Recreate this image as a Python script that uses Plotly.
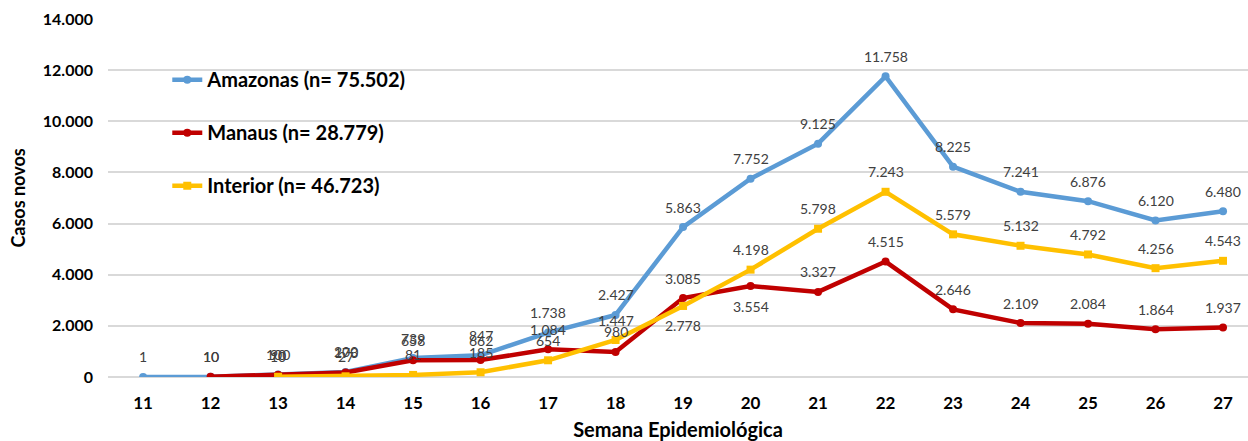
import plotly.graph_objects as go

# Semanas epidemiológicas e casos novos por semana
semanas = ["11", "12", "13", "14", "15", "16", "17", "18", "19", "20",
           "21", "22", "23", "24", "25", "26", "27"]
amazonas = [1, 10, 100, 200, 739, 847, 1738, 2427, 5863, 7752,
            9125, 11758, 8225, 7241, 6876, 6120, 6480]
manaus = [None, 10, 90, 173, 658, 662, 1084, 980, 3085, 3554,
          3327, 4515, 2646, 2109, 2084, 1864, 1937]
interior = [None, None, 10, 27, 81, 185, 654, 1447, 2778, 4198,
            5798, 7243, 5579, 5132, 4792, 4256, 4543]

nomes = ["Amazonas (n= 75.502)", "Manaus (n= 28.779)", "Interior (n= 46.723)"]
cores = ["#5b9bd5", "#c00000", "#ffc000"]
simbolos = ["circle", "circle", "square"]
series = [amazonas, manaus, interior]

# rótulos abaixo do ponto (semana 19 no Interior, semana 20 em Manaus)
abaixo = {(2, "19"), (1, "20")}

fig = go.Figure()
for i, (nome, cor, simb, vals) in enumerate(zip(nomes, cores, simbolos, series)):
    fig.add_trace(go.Scatter(
        x=semanas, y=vals, name=nome, mode="lines+markers",
        line=dict(color=cor, width=4.5),
        marker=dict(color=cor, size=8, symbol=simb),
        legendgroup=f"g{i}", connectgaps=False,
    ))

def fmt(v):
    return f"{v:,}".replace(",", ".")

anotacoes = []
for i, vals in enumerate(series):
    for j, (s, v) in enumerate(zip(semanas, vals)):
        if v is None:
            continue
        desloc = -20 if (i, s) in abaixo else 20
        anotacoes.append(dict(
            x=j, y=v, xref="x", yref="y", text=fmt(v), showarrow=False,
            yshift=desloc, font=dict(family="Lato", size=14, color="#404040"),
        ))

fig.update_layout(
    width=1248, height=441,
    margin=dict(l=108, r=0, t=19, b=64),
    paper_bgcolor="white", plot_bgcolor="white",
    separators=",.",
    annotations=anotacoes,
    showlegend=True,
    legend=dict(
        x=0.052, y=0.885, xanchor="left", yanchor="top",
        bgcolor="rgba(0,0,0,0)", traceorder="grouped", tracegroupgap=24,
        font=dict(family="Lato", size=20, color="#000000", weight="bold"),
        itemwidth=30,
    ),
    xaxis=dict(
        type="category", range=[-0.52, 16.37],
        showgrid=False, showline=False, zeroline=False,
        tickfont=dict(family="Lato", size=17, color="#000000", weight="bold"),
        ticklabelstandoff=14,
        title=dict(text="Semana Epidemiológica", standoff=10,
                   font=dict(family="Lato", size=20, color="#000000", weight="bold")),
    ),
    yaxis=dict(
        range=[0, 14000], dtick=2000, tickformat=",",
        showgrid=True, gridcolor="#d9d9d9", gridwidth=1.5,
        zeroline=True, zerolinecolor="#d9d9d9", zerolinewidth=1.5,
        showline=False,
        tickfont=dict(family="Lato", size=16, color="#000000", weight="bold"),
        ticklabelstandoff=14,
        title=dict(text="Casos novos", standoff=12,
                   font=dict(family="Lato", size=18, color="#000000", weight="bold")),
    ),
)

fig.write_html("out.html")
